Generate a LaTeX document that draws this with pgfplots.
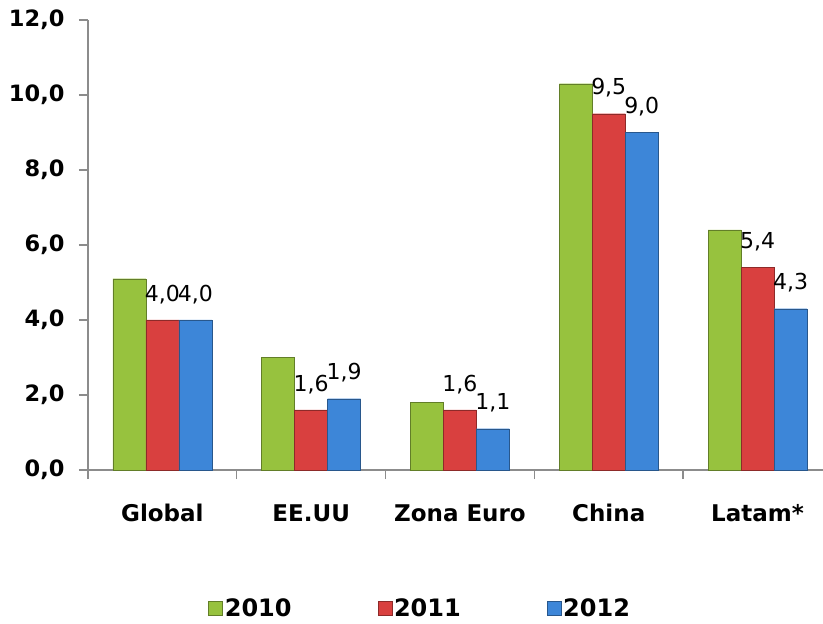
\documentclass[border=0pt]{standalone}
\usepackage{fontspec}
\setmainfont{DejaVu Sans}
\usepackage{pgfplots}
\pgfplotsset{compat=1.18}
\definecolor{gA}{HTML}{97C23E}
\definecolor{rA}{HTML}{D9403F}
\definecolor{bA}{HTML}{3D86D8}
\definecolor{axgray}{HTML}{8C8C8C}

\begin{document}
\begin{tikzpicture}
\begin{axis}[
  scale only axis, width=735pt, height=450pt,
  xmin=-0.5, xmax=4.44, ymin=0, ymax=12,
  clip=false,
  ybar=0pt, bar width=33pt,
  axis x line*=bottom, axis y line*=left,
  axis line style={draw=axgray, line width=1.3pt},
  tick align=outside, major tick length=9pt,
  ytick={0,2,...,12},
  ytick style={draw=axgray, line width=1.3pt},
  yticklabel={\pgfmathprintnumber[fixed,fixed zerofill,precision=1,use comma,assume math mode=true]{\tick}},
  y tick label style={font=\bfseries\fontsize{22.5}{26}\selectfont, xshift=-11pt},
  xtick={0,1,2,3,4},
  xticklabels={Global,EE.UU,Zona Euro,China,Latam*},
  xtick style={draw=none},
  x tick label style={font=\bfseries\fontsize{23}{27}\selectfont, yshift=-22pt,
    text height=17pt, text depth=5pt},
  extra x ticks={-0.5,0.5,1.5,2.5,3.5},
  extra x tick labels={},
  extra x tick style={xtick style={draw=axgray, line width=1.3pt}},
  legend style={at={(0.452,-0.307)}, anchor=center, legend columns=3, draw=none,
    font=\bfseries\fontsize{24}{28}\selectfont,
    /tikz/every even column/.append style={column sep=84pt}},
  legend image code/.code={\path[#1] (0pt,-7pt) rectangle (14pt,7pt);},
  every node near coord/.append style={font=\fontsize{22}{26}\selectfont, text=black,
    anchor=south, inner sep=0pt, yshift=16pt},
]
\coordinate (bl) at (rel axis cs:0,0);
\coordinate (tr) at (rel axis cs:1,1);
% 2010
\addplot[draw=gA!65!black, fill=gA]
  coordinates {(0,5.1) (1,3.0) (2,1.8) (3,10.3) (4,6.4)};
\addlegendentry{2010}
% 2011
\addplot[draw=rA!65!black, fill=rA,
  nodes near coords={\pgfmathprintnumber[fixed,fixed zerofill,precision=1,use comma,assume math mode=true]{\pgfplotspointmeta}}]
  coordinates {(0,4.0) (1,1.6) (2,1.6) (3,9.5) (4,5.4)};
\addlegendentry{2011}
% 2012
\addplot[draw=bA!65!black, fill=bA,
  nodes near coords={\pgfmathprintnumber[fixed,fixed zerofill,precision=1,use comma,assume math mode=true]{\pgfplotspointmeta}}]
  coordinates {(0,4.0) (1,1.9) (2,1.1) (3,9.0) (4,4.3)};
\addlegendentry{2012}
\end{axis}
\pgfresetboundingbox
\path ([xshift=-88pt,yshift=-154pt]bl) rectangle ([yshift=20pt]tr);
\end{tikzpicture}
\end{document}
